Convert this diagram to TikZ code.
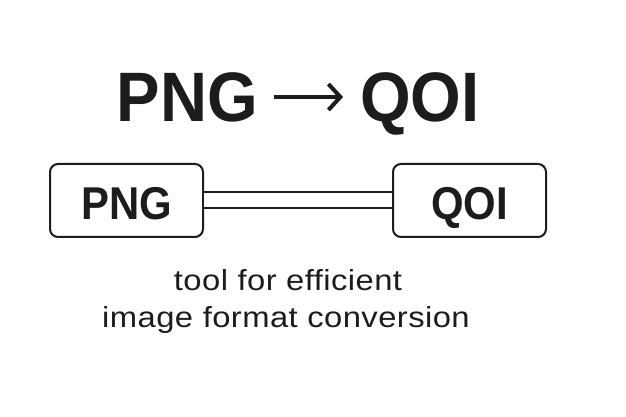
\documentclass[tikz,border=0pt]{standalone}
\usepackage{fontspec}
\setmainfont{Liberation Sans}
\newfontfamily\titlefont[FakeStretch=0.93]{Liberation Sans}
\newfontfamily\boxfont[FakeStretch=0.91]{Liberation Sans}
\newfontfamily\captionfont[FakeStretch=1.13,LetterSpace=1.5]{Liberation Sans}
\usetikzlibrary{arrows.meta,calc}
\definecolor{ink}{HTML}{1C1C1C}
\tikzset{
  titletext/.style={inner sep=0pt, anchor=base, text=ink, font=\titlefont\fontsize{70}{80}\selectfont\bfseries},
  boxnode/.style={draw=ink, line width=2pt, rounded corners=8pt, minimum width=153pt, minimum height=73pt, text=ink, font=\boxfont\fontsize{46}{52}\selectfont\bfseries, inner sep=0pt, text height=39pt, text depth=0pt},
  link/.style={draw=ink, line width=2pt, double=white, double distance=14pt},
  titlearrow/.style={draw=ink, line width=4pt, -{Straight Barb[length=12pt,width=26pt,line width=4pt]}},
  caption/.style={inner sep=0pt, anchor=base, text=ink, font=\captionfont\fontsize{29}{34}\selectfont}
}
\begin{document}
\begin{tikzpicture}[x=1pt,y=1pt]
\useasboundingbox[fill=white] (0,0) rectangle (626,417);
\node[titletext] (tpng) at (187.5,295) {PNG};
\node[titletext] (tqoi) at (420,295) {QOI};
\draw[titlearrow] ($(tpng.base east)+(16,25)$) -- ($(tqoi.base west)+(-17,25)$);
\node[boxnode] (png) at (126.5,216.5) {PNG};
\node[boxnode] (qoi) at (469.5,216.5) {QOI};
\draw[link] (png.east) -- (qoi.west);
\node[caption] (l1) at (288,126) {tool for efficient};
\node[caption] (l2) at (286,89.5) {image format conversion};
\end{tikzpicture}
\end{document}
